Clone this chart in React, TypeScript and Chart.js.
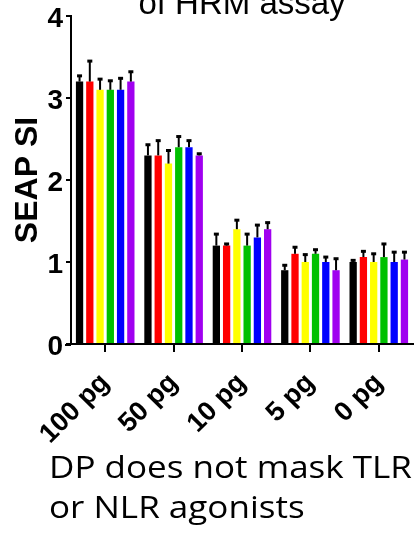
import React, { useEffect, useRef } from 'react';
import { Chart, registerables } from 'chart.js';

Chart.register(...registerables);

const categories = ['100 pg', '50 pg', '10 pg', '5 pg', '0 pg'];

const seriesNames = ['Group 1', 'Group 2', 'Group 3', 'Group 4', 'Group 5', 'Group 6'];
const seriesColors = ['#000000', '#ff0000', '#ffff00', '#00c000', '#0000ff', '#a000f0'];

const series1 = [3.2, 2.3, 1.2, 0.9, 1.0];
const series2 = [3.2, 2.3, 1.2, 1.1, 1.06];
const series3 = [3.1, 2.2, 1.4, 1.0, 1.0];
const series4 = [3.1, 2.4, 1.2, 1.1, 1.06];
const series5 = [3.1, 2.4, 1.3, 1.0, 1.0];
const series6 = [3.2, 2.3, 1.4, 0.9, 1.03];

const sd1 = [0.07, 0.13, 0.14, 0.06, 0.02];
const sd2 = [0.25, 0.18, 0.02, 0.08, 0.07];
const sd3 = [0.13, 0.16, 0.11, 0.09, 0.1];
const sd4 = [0.11, 0.13, 0.14, 0.05, 0.16];
const sd5 = [0.14, 0.08, 0.15, 0.06, 0.12];
const sd6 = [0.12, 0.02, 0.08, 0.14, 0.09];

const yTicks = [0, 1, 2, 3, 4];

const allValues = [series1, series2, series3, series4, series5, series6];
const allSd = [sd1, sd2, sd3, sd4, sd5, sd6];

const errorBarPlugin = {
  id: 'errorBars',
  afterDatasetsDraw(chart: any) {
    const ctx = chart.ctx;
    const yScale = chart.scales.y;
    ctx.save();
    ctx.strokeStyle = '#000';
    chart.data.datasets.forEach((ds: any, i: number) => {
      const meta = chart.getDatasetMeta(i);
      meta.data.forEach((bar: any, j: number) => {
        const v = allValues[i][j];
        const e = allSd[i][j];
        const yBar = yScale.getPixelForValue(v);
        const yTop = yScale.getPixelForValue(v + e);
        ctx.lineWidth = 2;
        ctx.beginPath();
        ctx.moveTo(bar.x, yBar);
        ctx.lineTo(bar.x, yTop);
        ctx.stroke();
        ctx.lineWidth = 3;
        ctx.beginPath();
        ctx.moveTo(bar.x - 2.5, yTop);
        ctx.lineTo(bar.x + 2.5, yTop);
        ctx.stroke();
      });
    });
    ctx.restore();
  },
  afterDraw(chart: any) {
    const ctx = chart.ctx;
    const { left, bottom } = chart.chartArea;
    ctx.save();
    ctx.strokeStyle = '#000';
    ctx.lineWidth = 2;
    ctx.beginPath();
    ctx.moveTo(left - 6, bottom + 1);
    ctx.lineTo(left, bottom + 1);
    ctx.stroke();
    ctx.restore();
  },
};

export default function App() {
  const canvasRef = useRef<HTMLCanvasElement | null>(null);

  useEffect(() => {
    if (!canvasRef.current) return;
    const chart = new Chart(canvasRef.current, {
      type: 'bar',
      data: {
        labels: categories,
        datasets: allValues.map((vals, i) => ({
          label: seriesNames[i],
          data: vals,
          backgroundColor: seriesColors[i],
          borderWidth: 0,
          categoryPercentage: 0.9,
          barPercentage: 0.71,
        })),
      },
      options: {
        responsive: false,
        maintainAspectRatio: false,
        animation: false,
        layout: { padding: { top: 16, right: 2, left: 0, bottom: 0 } },
        plugins: {
          legend: { display: false },
          tooltip: { enabled: false },
        },
        scales: {
          x: {
            z: 1,
            grid: {
              offset: false,
              drawOnChartArea: false,
              drawTicks: true,
              tickLength: 8,
              lineWidth: 2,
              color: '#000',
            },
            border: { color: '#000', width: 2 },
            ticks: {
              color: '#000',
              font: { family: 'Liberation Sans, Arial, sans-serif', size: 27, weight: 'bold' },
              minRotation: 45,
              maxRotation: 45,
              padding: 15,
            },
            afterFit: (s: any) => {
              s.height = 194;
              s.paddingLeft = 0;
              s.paddingRight = 0;
            },
          },
          y: {
            z: 1,
            min: 0,
            max: 4,
            afterBuildTicks: (s: any) => {
              s.ticks = yTicks.map((v) => ({ value: v }));
            },
            ticks: {
              stepSize: 1,
              color: '#000',
              font: { family: 'Liberation Sans, Arial, sans-serif', size: 28, weight: 'bold', lineHeight: '6px' },
              padding: 3,
              callback: (v: any) => ['', String(v)],
            },
            grid: {
              drawOnChartArea: false,
              drawTicks: true,
              tickLength: 5,
              lineWidth: 2,
              color: '#000',
            },
            border: { color: '#000', width: 2 },
            title: {
              display: true,
              text: 'SEAP SI',
              color: '#000',
              font: { family: 'Liberation Sans, Arial, sans-serif', size: 32, weight: 'bold' },
              padding: { top: 9, bottom: 0 },
            },
            afterFit: (s: any) => {
              s.width = 71;
              s.paddingTop = 0;
              s.paddingBottom = 0;
            },
          },
        },
      },
      plugins: [errorBarPlugin],
    } as any);
    return () => chart.destroy();
  }, []);

  return (
    <div
      style={{
        position: 'fixed',
        left: 0,
        top: 0,
        width: 415,
        height: 538,
        overflow: 'hidden',
        background: '#fff',
      }}
    >
      <canvas ref={canvasRef} width={415} height={538} style={{ display: 'block' }} />
      <div
        style={{
          position: 'absolute',
          left: 71,
          width: 342,
          top: -13,
          textAlign: 'center',
          fontFamily: 'Liberation Sans, Arial, sans-serif',
          fontSize: 33,
          lineHeight: '32px',
          color: '#000',
          whiteSpace: 'nowrap',
        }}
      >
        of HRM assay
      </div>
      <div
        style={{
          position: 'absolute',
          left: 49,
          top: 446,
          fontFamily: '"Open Sans", sans-serif',
          fontSize: 31,
          lineHeight: '40px',
          color: '#000',
          whiteSpace: 'nowrap',
          transform: 'scaleX(1.13)',
          transformOrigin: '0 0',
        }}
      >
        DP does not mask TLR
        <br />
        or NLR agonists
      </div>
    </div>
  );
}
